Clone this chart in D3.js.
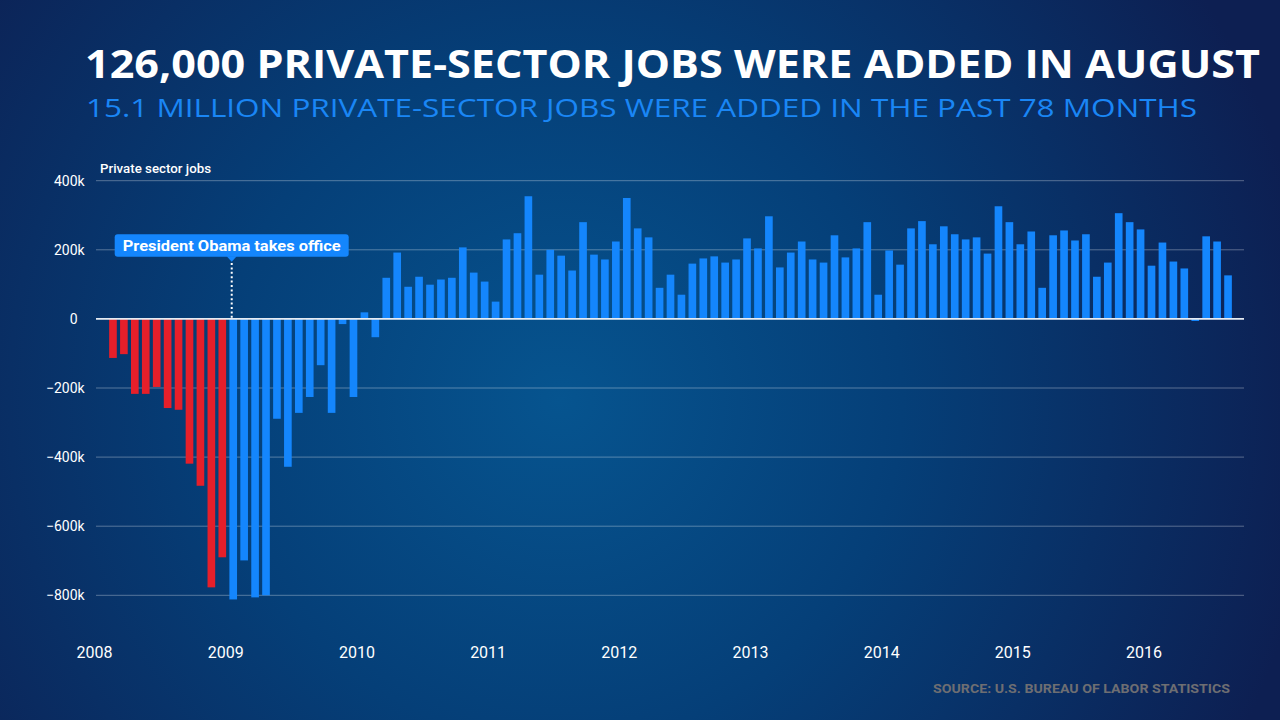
<!DOCTYPE html>
<html>
<head>
<meta charset="utf-8">
<script src="https://cdn.jsdelivr.net/npm/d3@7"></script>
<style>
  html, body { margin: 0; padding: 0; background: #0d2257; }
  svg { display: block; }
</style>
</head>
<body>
<svg id="chart" width="1280" height="720"></svg>
<script>
// ---- DATA ----
const startMonth = "2008-02";
const months2008 = [-113, -102, -217, -217, -197, -258, -263, -419, -483, -777, -690];
const months2009 = [-812, -699, -806, -800, -289, -428, -272, -226, -134, -272, -15, -226];
const months2010 = [19, -53, 119, 192, 93, 122, 99, 114, 119, 207, 134, 108];
const months2011 = [50, 230, 248, 355, 128, 200, 183, 140, 280, 186, 172, 224];
const months2012 = [350, 262, 236, 90, 128, 70, 160, 175, 181, 163, 172, 233];
const months2013 = [204, 297, 149, 192, 224, 172, 163, 242, 178, 204, 280, 70];
const months2014 = [198, 157, 262, 283, 216, 268, 245, 230, 236, 189, 326, 280];
const months2015 = [216, 253, 90, 242, 256, 227, 245, 122, 163, 306, 280, 259];
const months2016 = [154, 221, 166, 146, -6, 239, 224, 126];
const yTicks = [400, 200, 0, -200, -400, -600, -800];
const yearLabels = [2008, 2009, 2010, 2011, 2012, 2013, 2014, 2015, 2016];
const obamaIndex = 11; // Jan 2009
const titleText = "126,000 PRIVATE-SECTOR JOBS WERE ADDED IN AUGUST";
const subtitleText = "15.1 MILLION PRIVATE-SECTOR JOBS WERE ADDED IN THE PAST 78 MONTHS";
const yAxisTitle = "Private sector jobs";
const annotationText = "President Obama takes office";
const sourceText = "SOURCE: U.S. BUREAU OF LABOR STATISTICS";

const values = [].concat(months2008, months2009, months2010, months2011, months2012,
                         months2013, months2014, months2015, months2016);

// ---- SETUP ----
const svg = d3.select("#chart");
const defs = svg.append("defs");
const grad = defs.append("radialGradient")
  .attr("id", "bg").attr("gradientUnits", "userSpaceOnUse")
  .attr("cx", 560).attr("cy", 400).attr("r", 760);
grad.append("stop").attr("offset", "0").attr("stop-color", "#06548f");
grad.append("stop").attr("offset", "0.45").attr("stop-color", "#053f78");
grad.append("stop").attr("offset", "1").attr("stop-color", "#0d1f52");
svg.append("rect").attr("width", 1280).attr("height", 720).attr("fill", "url(#bg)");

const gridLeft = 96, gridRight = 1244;
const x = d3.scaleBand()
  .domain(d3.range(values.length))
  .range([107.5, 1233.5])
  .paddingInner(0.3)
  .paddingOuter(0.15);
const xCenter = d3.scaleLinear()
  .domain([0, values.length - 1])
  .range([x(0) + x.bandwidth() / 2, x(values.length - 1) + x.bandwidth() / 2]);
const y = d3.scaleLinear().domain([-800, 400]).range([595.3, 180.7]);

// ---- GRID ----
const grid = svg.append("g");
grid.selectAll("line").data(yTicks.filter(d => d !== 0)).join("line")
  .attr("x1", gridLeft).attr("x2", gridRight)
  .attr("y1", d => y(d)).attr("y2", d => y(d))
  .attr("stroke", "rgba(255,255,255,0.32)").attr("stroke-width", 1);

// Y labels: number right-aligned, "k" suffix hanging
const yLab = svg.append("g").attr("font-family", "Roboto, 'DejaVu Sans', sans-serif")
  .attr("font-size", 14).attr("fill", "#ffffff");
yLab.selectAll("text.num").data(yTicks).join("text").attr("class", "num")
  .attr("x", 77.5).attr("y", d => y(d)).attr("dy", "0.35em")
  .attr("text-anchor", "end").text(d => d3.format("")(d));
yLab.selectAll("text.k").data(yTicks.filter(d => d !== 0)).join("text").attr("class", "k")
  .attr("x", 77.5).attr("y", d => y(d)).attr("dy", "0.35em")
  .attr("text-anchor", "start").text("k");

svg.append("text").attr("x", 100).attr("y", 172.5)
  .attr("font-family", "Roboto, 'DejaVu Sans', sans-serif").attr("font-weight", 500)
  .attr("font-size", 12.5).attr("fill", "#ffffff")
  .attr("textLength", 111).attr("lengthAdjust", "spacingAndGlyphs")
  .text(yAxisTitle);

// ---- BARS ----
svg.append("g").selectAll("rect").data(values).join("rect")
  .attr("x", (d, i) => x(i))
  .attr("width", x.bandwidth())
  .attr("y", d => y(Math.max(0, d)))
  .attr("height", d => Math.abs(y(d) - y(0)))
  .attr("fill", (d, i) => i < obamaIndex ? "#e61f2a" : "#1486fd");

// zero line
svg.append("line").attr("x1", gridLeft).attr("x2", gridRight)
  .attr("y1", y(0)).attr("y2", y(0))
  .attr("stroke", "#e6ebf2").attr("stroke-width", 1.6);

// ---- X AXIS (years) ----
const yearPos = yr => xCenter((yr - 2008) * 12 - 1.5) - 2;
svg.append("g").selectAll("text").data(yearLabels).join("text")
  .attr("x", d => yearPos(d)).attr("y", 658)
  .attr("text-anchor", "middle")
  .attr("font-family", "Roboto, 'DejaVu Sans', sans-serif")
  .attr("font-size", 16).attr("fill", "#ffffff")
  .text(d => d);

// ---- ANNOTATION ----
const ox = xCenter(obamaIndex) - 1.5;
svg.append("line").attr("x1", ox).attr("x2", ox)
  .attr("y1", 263).attr("y2", y(0) - 1)
  .attr("stroke", "#ffffff").attr("stroke-width", 2)
  .attr("stroke-dasharray", "2,2.4");
const boxL = 114.7, boxR = 348.7, boxT = 234.3, boxB = 256.7;
svg.append("rect").attr("x", boxL).attr("y", boxT)
  .attr("width", boxR - boxL).attr("height", boxB - boxT)
  .attr("rx", 3).attr("fill", "#1486fd");
svg.append("path")
  .attr("d", `M${ox - 5},${boxB - 0.5} L${ox + 5},${boxB - 0.5} L${ox},${boxB + 5} Z`)
  .attr("fill", "#1486fd");
svg.append("text").attr("x", 122.7).attr("y", 251)
  .attr("font-family", "Roboto, 'DejaVu Sans', sans-serif").attr("font-weight", 700)
  .attr("font-size", 15).attr("fill", "#ffffff")
  .attr("textLength", 218).attr("lengthAdjust", "spacingAndGlyphs")
  .text(annotationText);

// ---- TITLES ----
svg.append("text").attr("x", 85).attr("y", 78.3)
  .attr("font-family", "'Open Sans', 'DejaVu Sans', sans-serif").attr("font-weight", 700)
  .attr("font-size", 39).attr("fill", "#ffffff")
  .attr("textLength", 1175).attr("lengthAdjust", "spacingAndGlyphs")
  .text(titleText);
svg.append("text").attr("x", 86).attr("y", 116.7)
  .attr("font-family", "'Open Sans', 'DejaVu Sans', sans-serif").attr("font-weight", 400)
  .attr("font-size", 26).attr("fill", "#1a86f5")
  .attr("textLength", 1111).attr("lengthAdjust", "spacingAndGlyphs")
  .text(subtitleText);

// ---- SOURCE ----
svg.append("text").attr("x", 1230).attr("y", 692.5)
  .attr("text-anchor", "end")
  .attr("font-family", "Roboto, 'DejaVu Sans', sans-serif").attr("font-weight", 700)
  .attr("font-size", 13.5).attr("fill", "#6e6e72")
  .attr("textLength", 297).attr("lengthAdjust", "spacingAndGlyphs")
  .text(sourceText);
</script>
</body>
</html>
